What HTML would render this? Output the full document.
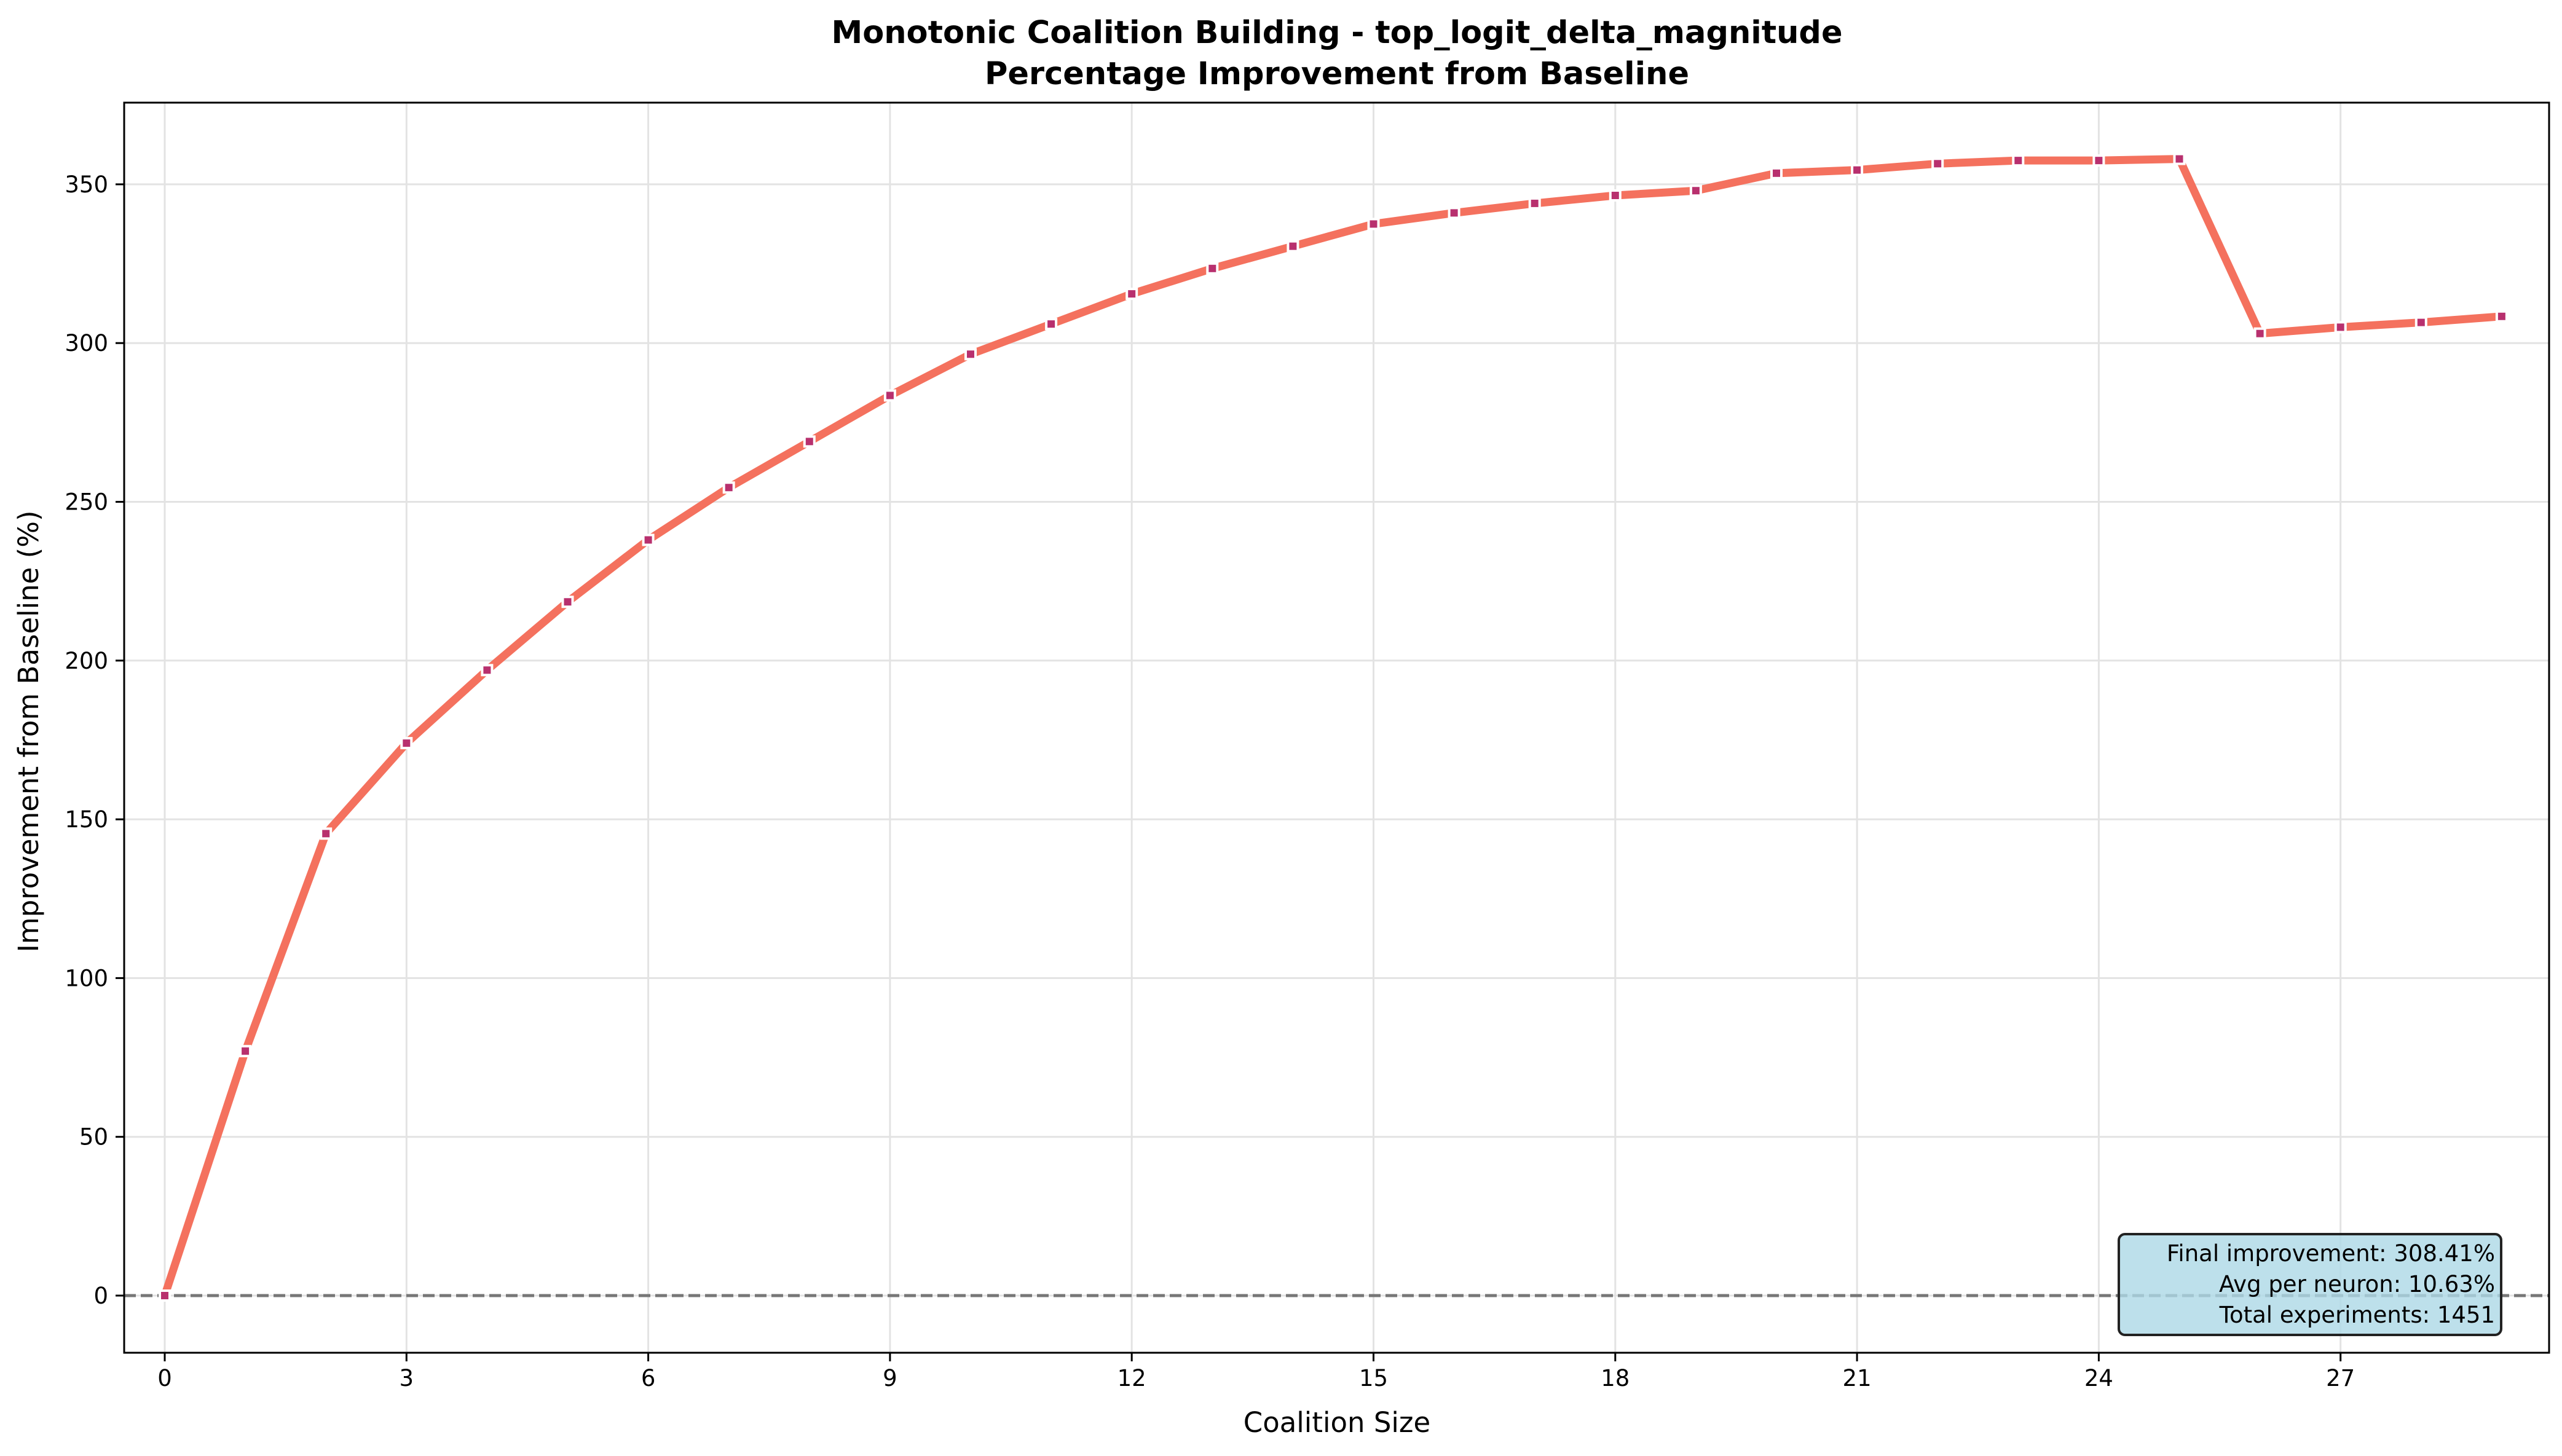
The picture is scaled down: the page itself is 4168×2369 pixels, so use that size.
<!DOCTYPE html>
<html><head><meta charset="utf-8"><style>
body{margin:0;background:#fff}
svg{display:block;font-family:"DejaVu Sans","Liberation Sans",sans-serif}
</style></head><body>
<svg id="chart" width="4168" height="2369" viewBox="0 0 4168 2369" xmlns="http://www.w3.org/2000/svg">
<rect width="4168" height="2369" fill="#fff"/>
<text x="2175" y="70" text-anchor="middle" font-size="51" font-weight="bold">Monotonic Coalition Building - top_logit_delta_magnitude</text>
<text x="2175" y="137" text-anchor="middle" font-size="51" font-weight="bold">Percentage Improvement from Baseline</text>
<g id="grid"></g>
<g id="ticks"></g>
<line id="zeroline" x1="202" x2="4147" stroke="#777" stroke-width="5" stroke-dasharray="19,8"/>
<g id="series"></g>
<rect x="202" y="167" width="3945" height="2034" fill="none" stroke="#000" stroke-width="3"/>
<g>
<rect x="3447" y="2008" width="622" height="164" rx="10" fill="#add8e6" fill-opacity="0.8" stroke="#222" stroke-width="4"/>
<text x="4059" y="2052" text-anchor="end" font-size="37">Final improvement: 308.41%</text>
<text x="4059" y="2102" text-anchor="end" font-size="37">Avg per neuron: 10.63%</text>
<text x="4059" y="2152" text-anchor="end" font-size="37">Total experiments: 1451</text>
</g>
<text x="2175" y="2330" text-anchor="middle" font-size="45">Coalition Size</text>
<text transform="translate(62,1190) rotate(-90)" text-anchor="middle" font-size="45">Improvement from Baseline (%)</text>
</svg>
<script>
const coalitionSizes=[0,1,2,3,4,5,6,7,8,9,10,11,12,13,14,15,16,17,18,19,20,21,22,23,24,25,26,27,28,29];
const improvementValues=[0,77,145.5,174,197,218.5,238,254.5,269,283.5,296.5,306,315.5,323.5,330.5,337.5,341,344,346.5,348,353.5,354.5,356.5,357.5,357.5,358,303,305,306.5,308.41];
const xTickValues=[0,3,6,9,12,15,18,21,24,27];
const yTickValues=[0,50,100,150,200,250,300,350];
const NS="http://www.w3.org/2000/svg";
const xs=v=>268+v*131.1;
const ys=v=>2108-v*(258.3/50);
function mk(t,a,p){const e=document.createElementNS(NS,t);for(const k in a)e.setAttribute(k,a[k]);p.appendChild(e);return e;}
const grid=document.getElementById('grid'),ticks=document.getElementById('ticks'),series=document.getElementById('series');
xTickValues.forEach(v=>{
 const g=mk('line',{x1:xs(v),x2:xs(v),y1:167,y2:2201,stroke:'#e3e3e3','stroke-width':3},grid);
 
 
 const t=mk('line',{x1:xs(v),x2:xs(v),y1:2201,y2:2215,stroke:'#000','stroke-width':3},ticks);
 
 
 const l=mk('text',{x:xs(v),y:2255,'text-anchor':'middle','font-size':37},ticks);
 
 
 l.textContent=v;
});
yTickValues.forEach(v=>{
 const g=mk('line',{x1:202,x2:4147,y1:ys(v),y2:ys(v),stroke:'#e3e3e3','stroke-width':3},grid);
 
 
 const t=mk('line',{x1:188,x2:202,y1:ys(v),y2:ys(v),stroke:'#000','stroke-width':3},ticks);
 
 
 const l=mk('text',{x:176,y:ys(v)+13,'text-anchor':'end','font-size':37},ticks);
 
 
 l.textContent=v;
});
const z=document.getElementById('zeroline');z.setAttribute('y1',ys(0));z.setAttribute('y2',ys(0));
const pts=coalitionSizes.map((c,i)=>xs(c)+','+ys(improvementValues[i])).join(' ');
const line=mk('polyline',{points:pts,fill:'none',stroke:'#f4715e','stroke-width':13,'stroke-linejoin':'round'},series);


coalitionSizes.forEach((c,i)=>{
 const m=mk('rect',{x:xs(c)-8,y:ys(improvementValues[i])-8,width:16,height:16,fill:'#b8306e',stroke:'#fff','stroke-width':4},series);
 
 
});
</script>
</body></html>
